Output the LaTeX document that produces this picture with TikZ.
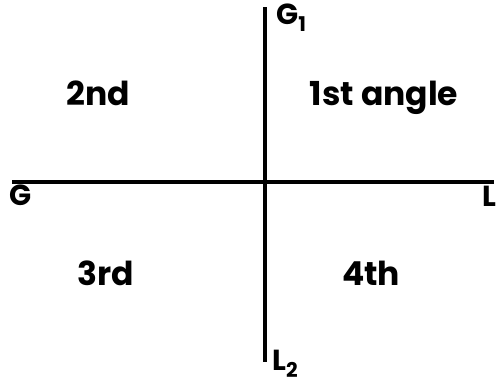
\documentclass[tikz,border=0pt]{standalone}
\usepackage{fontspec}
\setmainfont{Poppins}
\usepackage{tikz}
\usetikzlibrary{positioning}

\begin{document}
\begin{tikzpicture}[
  x=1pt, y=-1pt,
  axis/.style={line width=3.5pt},
  quad/.style={font=\fontsize{33}{38}\selectfont\bfseries, anchor=base, inner sep=0pt},
  ends/.style={font=\fontsize{29}{34}\selectfont\bfseries, inner sep=0pt},
]
\useasboundingbox (0,0) rectangle (503,388);

%------------------- axes -------------------
\coordinate (gtop) at (265,7);
\coordinate (lbot) at (265,362);
\coordinate (gleft) at (12,182);
\coordinate (lright) at (494,182);
\draw[axis] (gtop) -- (lbot);
\draw[axis] (gleft) -- (lright);

%------------------- end labels -------------------
\node (g1) [ends, anchor=north west] at (276,4) {G$_{\mathbf 1}$};
\node (g) [ends, anchor=north west] at (9,185) {G};
\node (l) [ends, anchor=north east] at (497,186) {L};
\node (l2) [ends, anchor=north west] at (272,350) {L$_{\mathbf 2}$};

%------------------- quadrants -------------------
\node (second) [quad] at (98,105) {2nd};
\node (first) [quad] at (384,105) {1st angle};
\node (third) [quad] at (106,285) {3rd};
\node (fourth) [quad] at (371,285) {4th};

\end{tikzpicture}
\end{document}
